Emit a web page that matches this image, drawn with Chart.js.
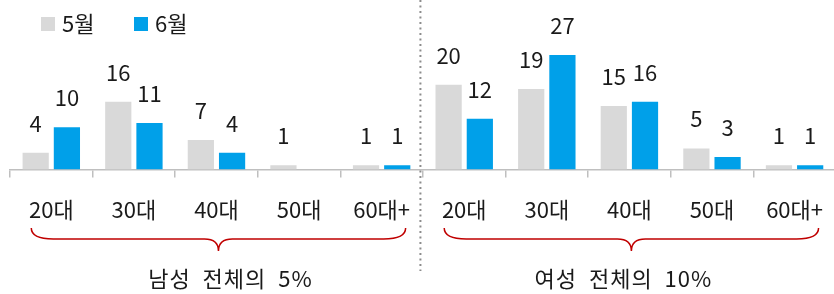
<!DOCTYPE html>
<html>
<head>
<meta charset="utf-8">
<script src="https://cdn.jsdelivr.net/npm/chart.js@4.4.1/dist/chart.umd.min.js"></script>
<style>
  html, body { margin: 0; padding: 0; background: #fff; overflow: hidden; }
  #wrap { position: relative; width: 834px; height: 294px; overflow: hidden; }
  #myChart { display: block; }
</style>
</head>
<body>
<div id="wrap"><canvas id="myChart" width="842" height="294"></canvas></div>
<script>
// 연령대 (남성 5개 + 여성 5개)
const ageLabels = ['20대', '30대', '40대', '50대', '60대+', '20대', '30대', '40대', '50대', '60대+'];
const mayValues = [4, 16, 7, 1, 1, 20, 19, 15, 5, 1];
const juneValues = [10, 11, 4, 0, 1, 12, 27, 16, 3, 1];
const seriesNames = ['5월', '6월'];
const groupNames = ['남성 전체의 5%', '여성 전체의 10%'];

const FONT = '"Noto Sans CJK KR", "Noto Sans", sans-serif';
const TEXT = '#1a1a1a';

const decorations = {
    id: 'decorations',
    afterDatasetsDraw(chart) {
        const ctx = chart.ctx;
        const x = chart.scales.x;

        // value labels
        ctx.save();
        ctx.font = '22px ' + FONT;
        ctx.fillStyle = TEXT;
        ctx.textAlign = 'center';
        ctx.textBaseline = 'alphabetic';
        chart.data.datasets.forEach((ds, i) => {
            chart.getDatasetMeta(i).data.forEach((bar, j) => {
                if (!ds.data[j]) return;
                ctx.fillText(String(ds.data[j]), bar.x, bar.y - 21);
            });
        });
        ctx.restore();

        // legend
        ctx.save();
        ctx.font = '22px ' + FONT;
        ctx.textBaseline = 'middle';
        const legendX = [41, 134];
        chart.data.datasets.forEach((ds, i) => {
            ctx.fillStyle = ds.backgroundColor;
            ctx.fillRect(legendX[i], 17, 14, 14);
            ctx.fillStyle = TEXT;
            ctx.fillText(ds.label, legendX[i] + 21, 24);
        });
        ctx.restore();

        // dotted separator
        const sepX = (x.getPixelForValue(4) + x.getPixelForValue(5)) / 2 - 2.5;
        ctx.save();
        ctx.strokeStyle = '#8c8c8c';
        ctx.lineWidth = 2;
        ctx.setLineDash([2, 3.5]);
        ctx.beginPath();
        ctx.moveTo(sepX, 0);
        ctx.lineTo(sepX, 271);
        ctx.stroke();
        ctx.restore();

        // braces + group labels
        const groups = [[0, 4, 12], [5, 9, -8]];
        groups.forEach((g, k) => {
            const x0 = x.getPixelForValue(g[0]) - 20;
            const x1 = x.getPixelForValue(g[1]) + 24;
            const xm = (x0 + x1) / 2;
            const yTop = 228, yMid = 239, yBot = 251;
            ctx.save();
            ctx.strokeStyle = '#c00000';
            ctx.lineWidth = 1.5;
            ctx.beginPath();
            ctx.moveTo(x0, yTop);
            ctx.quadraticCurveTo(x0, yMid, x0 + 22, yMid);
            ctx.lineTo(xm - 14, yMid);
            ctx.quadraticCurveTo(xm, yMid, xm, yBot);
            ctx.quadraticCurveTo(xm, yMid, xm + 14, yMid);
            ctx.lineTo(x1 - 22, yMid);
            ctx.quadraticCurveTo(x1, yMid, x1, yTop);
            ctx.stroke();
            ctx.restore();

            ctx.save();
            ctx.font = '22px ' + FONT;
            ctx.fillStyle = TEXT;
            ctx.textAlign = 'center';
            ctx.textBaseline = 'middle';
            ctx.letterSpacing = '1px';
            ctx.fillText(groupNames[k].split(' ').join('  '), xm + g[2], 279);
            ctx.restore();
        });
    }
};

const chartData = {
    labels: ageLabels,
    datasets: [{
        label: seriesNames[0],
        backgroundColor: '#d9d9d9',
        data: mayValues,
    },
    {
        label: seriesNames[1],
        backgroundColor: '#00a0e9',
        data: juneValues,
    }]
};

const config = {
    type: 'bar',
    data: chartData,
    options: {
        responsive: false,
        animation: false,
        devicePixelRatio: 1,
        datasets: {
            bar: { categoryPercentage: 0.756, barPercentage: 0.84 }
        },
        layout: { padding: { left: 10, right: 0, top: 0, bottom: 52 } },
        plugins: {
            legend: { display: false },
            tooltip: { enabled: false }
        },
        scales: {
            x: {
                border: { display: true, color: '#bfbfbf', width: 1.5 },
                grid: {
                    display: true,
                    drawOnChartArea: false,
                    drawTicks: true,
                    tickLength: 8,
                    color: '#bfbfbf',
                    lineWidth: 1.5,
                    offset: true
                },
                ticks: {
                    color: TEXT,
                    font: { family: FONT, size: 22 },
                    padding: 19,
                    maxRotation: 0,
                    autoSkip: false
                }
            },
            y: {
                display: false,
                min: 0,
                max: 40
            }
        }
    },
    plugins: [decorations]
};

const myChart = new Chart(document.getElementById('myChart'), config);
</script>
</body>
</html>
